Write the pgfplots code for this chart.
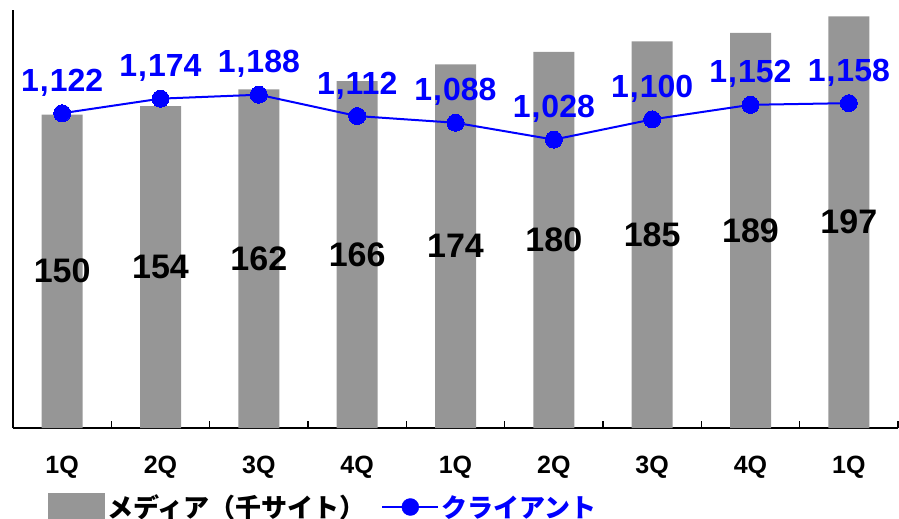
\documentclass[border=0pt]{standalone}
\usepackage{fontspec}
\setmainfont{Liberation Sans}
\newfontfamily\jp{Noto Sans CJK JP}
\usepackage{pgfplots}
\pgfplotsset{compat=1.18}
\usepackage{pgfplotstable}
\definecolor{barc}{RGB}{150,150,150}
\definecolor{lnc}{RGB}{0,0,255}

\pgfplotstableread{
x media client
0 150 1122
1 154 1174
2 162 1188
3 166 1112
4 174 1088
5 180 1028
6 185 1100
7 189 1152
8 197 1158
}\datatab

\begin{document}
\begin{tikzpicture}[x=1pt,y=1pt]
\useasboundingbox (0,0) rectangle (899,-519);
\begin{axis}[
  at={(13pt,-428pt)}, anchor=south west,
  scale only axis, width=885pt, height=418pt,
  xmin=-0.5, xmax=8.5, ymin=0, ymax=200,
  clip=false,
  axis x line*=bottom, axis y line*=left,
  axis line style={black, line width=1.6pt},
  ytick=\empty,
  xtick={0,...,8}, xticklabels={1Q,2Q,3Q,4Q,1Q,2Q,3Q,4Q,1Q},
  major tick length=0pt,
  extra x ticks={0.5,1.5,...,8.5}, extra x tick labels={},
  extra x tick style={major tick length=7pt, tick align=inside, tick style={black,line width=1.2pt}},
  xticklabel style={font=\fontsize{25}{30}\selectfont\bfseries, yshift=-25pt},
  /pgf/number format/assume math mode=true,
  legend style={at={(axis description cs:0.0395,-0.189)}, anchor=west, draw=none, fill=none,
    legend columns=2, font=\jp\bfseries\fontsize{26}{30}\selectfont, inner sep=0pt,
    /tikz/every even column/.append style={column sep=14pt}},
  legend cell align=left,
]
\addplot[ybar, bar width=41pt, fill=barc, draw=none,
  legend image code/.code={\fill[barc] (0pt,-13pt) rectangle (57pt,14pt);}]
  table[x=x,y=media]{\datatab};
\addlegendentry{メディア（千サイト）}
\addlegendimage{legend image code/.code={\draw[lnc,line width=2pt] (0pt,0pt)--(56pt,0pt); \fill[lnc] (28pt,0pt) circle (8.5pt);}}
\addlegendentry[text=lnc]{クライアント}
\addplot[draw=none, mark=none, forget plot, nodes near coords, point meta=explicit,
  nodes near coords style={font=\fontsize{34}{36}\selectfont\bfseries, anchor=center, text=black}]
  table[x=x, y expr=\thisrow{media}/2, meta=media]{\datatab};
\end{axis}
\begin{axis}[
  at={(13pt,-428pt)}, anchor=south west,
  scale only axis, width=885pt, height=418pt,
  xmin=-0.5, xmax=8.5, ymin=0, ymax=1490,
  clip=false, hide axis,
  /pgf/number format/assume math mode=true,
  /pgf/number format/1000 sep={\kern1pt,\kern1pt},
]
\addplot[lnc, line width=2pt, mark=*, mark size=8.5pt, mark options={fill=lnc, draw=lnc, line width=0pt},
  nodes near coords, point meta=y,
  nodes near coords style={font=\fontsize{32}{36}\selectfont\bfseries, text=lnc, anchor=base, yshift=22pt}]
  table[x=x,y=client]{\datatab};
\end{axis}
\end{tikzpicture}
\end{document}
